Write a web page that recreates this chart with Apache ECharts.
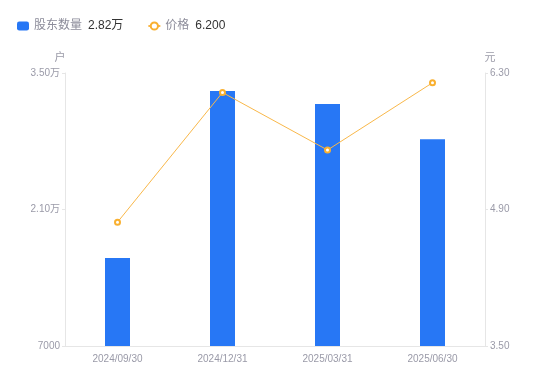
<!DOCTYPE html>
<html>
<head>
<meta charset="utf-8">
<script src="https://cdn.jsdelivr.net/npm/echarts@6/dist/echarts.min.js"></script>
<style>
    html, body { margin: 0; padding: 0; background: #fff; }
    #chart { width: 550px; height: 381px; }
</style>
</head>
<body>
<div id="chart"></div>
<script>
const dates = ["2024/09/30", "2024/12/31", "2025/03/31", "2025/06/30"];
const holders = [16030, 33150, 31820, 28200];
const prices = [4.77, 6.10, 5.51, 6.20];

const holderName = "股东数量";
const priceName = "价格";
const holderLast = "2.82万";
const priceLast = "6.200";

const fmtHolder = v => v >= 10000 ? (v / 10000).toFixed(2) + "万" : String(v);

const chart = echarts.init(document.getElementById("chart"));

chart.setOption({
    backgroundColor: "#fff",
    animation: false,
    textStyle: { fontFamily: "Liberation Sans, Noto Sans CJK SC, sans-serif" },
    legend: {
        left: 12,
        top: 15,
        itemGap: 24,
        itemWidth: 12,
        itemHeight: 9,
        data: [
            { name: holderName, icon: "roundRect", itemWidth: 9 },
            { name: priceName }
        ],
        formatter: name => {
            const v = name === holderName ? holderLast : priceLast;
            return "{n|" + name + "}{v|" + v + "}";
        },
        textStyle: {
            rich: {
                n: { color: "#8c8c9a", fontSize: 12, padding: [0, 6, 0, 0] },
                v: { color: "#333", fontSize: 12 }
            }
        }
    },
    grid: { left: 65, right: 65, top: 73, bottom: 35 },
    xAxis: {
        type: "category",
        data: dates,
        axisLine: { lineStyle: { color: "#e6e6e6" } },
        axisTick: { show: false },
        axisLabel: { color: "#9a9aa8", fontSize: 10, margin: 8 }
    },
    yAxis: [
        {
            type: "value",
            name: "户",
            nameGap: 10,
            nameTextStyle: { color: "#9a9aa8", fontSize: 11, padding: [0, 0, 0, -10] },
            min: 7000,
            max: 35000,
            interval: 14000,
            splitLine: { show: false },
            axisLine: { show: true, lineStyle: { color: "#e6e6e6" } },
            axisTick: { show: true, length: 3, lineStyle: { color: "#e6e6e6" } },
            axisLabel: { color: "#9a9aa8", fontSize: 10, margin: 5, formatter: fmtHolder }
        },
        {
            type: "value",
            name: "元",
            nameGap: 10,
            nameTextStyle: { color: "#9a9aa8", fontSize: 11, padding: [0, 0, 0, 10] },
            min: 3.5,
            max: 6.3,
            interval: 1.4,
            splitLine: { show: false },
            axisLine: { show: true, lineStyle: { color: "#e6e6e6" } },
            axisTick: { show: true, length: 3, lineStyle: { color: "#e6e6e6" } },
            axisLabel: { color: "#9a9aa8", fontSize: 10, margin: 5, formatter: v => v.toFixed(2) }
        }
    ],
    series: [
        {
            name: holderName,
            type: "bar",
            data: holders,
            barWidth: 25,
            itemStyle: { color: "#2777f5" }
        },
        {
            name: priceName,
            type: "line",
            yAxisIndex: 1,
            data: prices,
            symbol: "emptyCircle",
            symbolSize: 5,
            lineStyle: { color: "#f9b84a", width: 1 },
            itemStyle: { color: "#f9b030", borderWidth: 2 }
        }
    ]
});
</script>
</body>
</html>
